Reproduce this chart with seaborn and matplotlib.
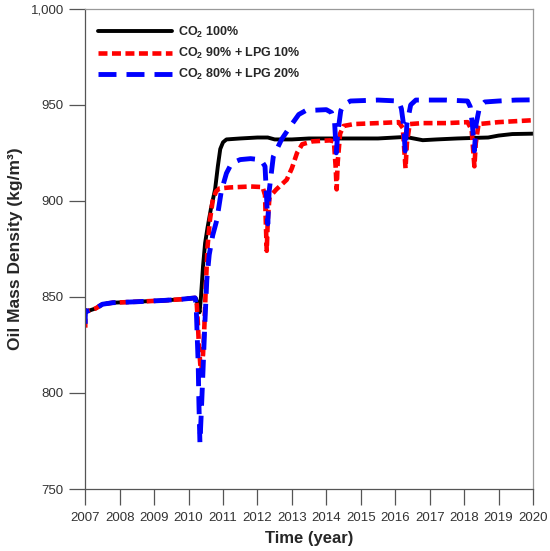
import matplotlib
matplotlib.use("Agg")
import matplotlib.pyplot as plt
import matplotlib.ticker as mticker
import seaborn as sns
import pandas as pd

# shared start of all three runs (before the first injection)
early_years = [2007.00, 2007.03, 2007.10, 2007.30, 2007.50, 2007.80, 2008.50, 2009.30, 2009.80, 2010.19]
early_vals = [843.0, 842.5, 842.8, 844.0, 846.2, 847.0, 847.5, 848.2, 848.8, 849.5]

co2_years = [2010.22, 2010.28, 2010.32, 2010.36, 2010.42, 2010.48, 2010.55, 2010.65, 2010.77,
             2010.85, 2010.92, 2011.00, 2011.10, 2011.50, 2012.00, 2012.30, 2012.50, 2013.00,
             2013.50, 2014.00, 2014.50, 2015.00, 2015.50, 2016.00, 2016.30, 2016.80, 2017.20,
             2017.80, 2018.30, 2018.70, 2019.00, 2019.40, 2020.00]
co2_vals = [849.0, 845.0, 842.0, 850.0, 866.0, 878.0, 886.0, 896.0, 906.0,
            918.0, 927.0, 930.5, 932.0, 932.5, 933.0, 933.0, 932.0, 932.0,
            932.5, 932.5, 932.5, 932.5, 932.5, 933.0, 933.3, 931.6, 932.0,
            932.5, 932.8, 933.0, 934.0, 934.8, 935.0]

lpg10_years = [2010.24, 2010.27, 2010.30, 2010.34, 2010.37, 2010.42, 2010.46, 2010.50, 2010.55,
               2010.62, 2010.70, 2010.80, 2010.90, 2011.20, 2011.80, 2012.15, 2012.22, 2012.25,
               2012.27, 2012.30, 2012.35, 2012.55, 2012.85, 2013.00, 2013.15, 2013.30, 2013.60,
               2014.10, 2014.22, 2014.27, 2014.30, 2014.33, 2014.40, 2014.50, 2014.80, 2015.50,
               2016.10, 2016.22, 2016.27, 2016.30, 2016.34, 2016.42, 2016.80, 2017.50, 2018.10,
               2018.22, 2018.27, 2018.30, 2018.34, 2018.42, 2019.00, 2019.50, 2020.00]
lpg10_vals = [846.0, 836.0, 825.0, 815.0, 812.0, 820.0, 835.0, 855.0, 876.0,
              890.0, 900.0, 905.0, 906.5, 907.0, 907.5, 907.2, 903.0, 885.0,
              874.0, 890.0, 902.0, 906.0, 911.0, 917.0, 925.0, 929.5, 931.0,
              931.5, 931.0, 918.0, 906.0, 920.0, 935.0, 939.0, 940.0, 940.5,
              941.0, 938.0, 925.0, 917.0, 930.0, 940.0, 940.5, 940.5, 941.0,
              937.0, 925.0, 918.0, 930.0, 940.0, 941.0, 941.5, 942.0]

lpg20_years = [2010.22, 2010.25, 2010.28, 2010.30, 2010.33, 2010.37, 2010.42, 2010.47, 2010.53,
               2010.60, 2010.70, 2010.82, 2010.95, 2011.10, 2011.25, 2011.50, 2011.80, 2012.10,
               2012.22, 2012.27, 2012.30, 2012.34, 2012.46, 2012.70, 2012.95, 2013.20, 2013.40,
               2014.00, 2014.15, 2014.24, 2014.29, 2014.33, 2014.42, 2014.50, 2014.70, 2015.50,
               2016.10, 2016.18, 2016.24, 2016.29, 2016.34, 2016.45, 2016.60, 2017.50, 2018.10,
               2018.18, 2018.24, 2018.30, 2018.35, 2018.45, 2018.60, 2019.00, 2019.50, 2020.00]
lpg20_vals = [846.0, 830.0, 815.0, 795.0, 774.0, 790.0, 812.0, 835.0, 859.0,
              872.0, 882.0, 890.0, 905.0, 914.4, 919.6, 921.5, 922.0, 921.4,
              918.0, 900.0, 888.0, 905.0, 923.0, 932.0, 938.7, 945.0, 947.0,
              947.5, 946.0, 941.0, 925.0, 935.0, 947.0, 950.0, 952.0, 952.5,
              952.0, 948.0, 940.0, 926.0, 940.0, 950.0, 952.5, 952.5, 952.0,
              949.0, 940.0, 926.0, 940.0, 949.0, 951.5, 952.0, 952.5, 952.6]

start_vals = {"co2": 840.0, "lpg10": 834.0, "lpg20": 836.0}

series = [
    ("co2", "CO$_{\\mathbf{2}}$ 100%", co2_years, co2_vals, "black", "-", 2.8),
    ("lpg10", "CO$_{\\mathbf{2}}$ 90% + LPG 10%", lpg10_years, lpg10_vals, "#ff0000", (0, (1.96, 0.98)), 3.3),
    ("lpg20", "CO$_{\\mathbf{2}}$ 80% + LPG 20%", lpg20_years, lpg20_vals, "#0000ff", (0, (3.7, 2.06)), 3.5),
]

sns.set_style("ticks")
plt.rcParams["font.family"] = ["Liberation Sans", "DejaVu Sans"]
plt.rcParams["mathtext.fontset"] = "custom"
plt.rcParams["mathtext.rm"] = "Liberation Sans:bold"
plt.rcParams["mathtext.bf"] = "Liberation Sans:bold"

fig, ax = plt.subplots(figsize=(5.5, 5.51), dpi=100)
fig.subplots_adjust(left=0.155, right=0.969, bottom=0.1125, top=0.984)

for key, label, yrs, vals, color, ls, lw in series:
    df = pd.DataFrame({
        "year": [2007.0] + early_years + yrs,
        "density": [start_vals[key]] + early_vals + vals,
    })
    sns.lineplot(data=df, x="year", y="density", color=color, linestyle=ls,
                 linewidth=lw, label=label, sort=False, estimator=None, ax=ax)

ax.set_xlim(2007, 2020)
ax.set_ylim(750, 1000)
ax.set_xticks(range(2007, 2021))
ax.set_yticks(range(750, 1001, 50))
ax.yaxis.set_major_formatter(mticker.StrMethodFormatter("{x:,.0f}"))

ax.tick_params(axis="both", direction="out", length=11.5, width=0.9, color="#555555",
               labelsize=9.5, labelcolor="#333333")
ax.tick_params(axis="x", pad=5)
ax.tick_params(axis="y", pad=4)

for side in ["left", "bottom"]:
    ax.spines[side].set_color("#555555")
    ax.spines[side].set_linewidth(0.9)
for side in ["top", "right"]:
    ax.spines[side].set_visible(True)
    ax.spines[side].set_color("#999999")
    ax.spines[side].set_linewidth(0.9)

ax.set_xlabel("Time (year)", fontsize=12, fontweight="bold")
ax.set_ylabel("Oil Mass Density (kg/m³)", fontsize=12.5, fontweight="bold")
ax.xaxis.set_label_coords(0.5, -0.088)
ax.yaxis.set_label_coords(-0.14, 0.5)

ax.legend(loc="upper left", bbox_to_anchor=(0.029, 0.967), frameon=False,
          borderpad=0, borderaxespad=0, handlelength=5.9, handletextpad=0.5,
          labelspacing=0.5, prop={"size": 9, "weight": "bold"})

plt.savefig("out.png", dpi=100)
plt.close()
